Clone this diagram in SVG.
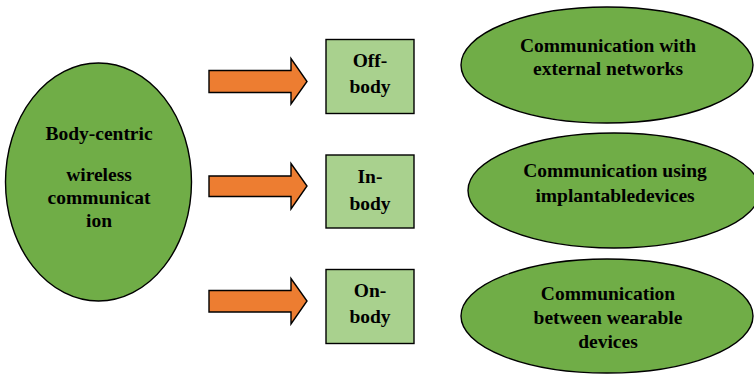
<svg xmlns="http://www.w3.org/2000/svg" width="754" height="375" viewBox="0 0 754 375">
<style>
.ell{fill:#70AD47;stroke:#000;stroke-width:1.4}
.box{fill:#A9D18E;stroke:#000;stroke-width:1.4}
.arr{fill:#ED7D31;stroke:#000;stroke-width:1.4;stroke-linejoin:miter}
text{font-family:"Liberation Serif","Times New Roman",serif;font-weight:bold;font-size:19.5px;fill:#000;text-anchor:middle}
</style>
<rect width="754" height="375" fill="#fff"/>
<g id="connectors">
<polygon class="arr" points="209,70.5 291,70.5 291,58.5 307,81.5 291,104 291,92.5 209,92.5"/>
<polygon class="arr" points="209,176 291,176 291,163.5 307,186 291,209 291,196.5 209,196.5"/>
<polygon class="arr" points="209,290.5 291,290.5 291,278.5 307,301 291,324 291,312 209,312"/>
</g>
<g id="body-centric">
<ellipse class="ell" cx="98.5" cy="182" rx="93" ry="119"/>
<text x="99" y="140">Body-centric</text>
<text x="99" y="180.5">wireless</text>
<text x="99" y="204">communicat</text>
<text x="99" y="227">ion</text>
</g>
<g id="off-body">
<rect class="box" x="326" y="39.5" width="88" height="74"/>
<text x="370" y="66.5">Off-</text>
<text x="370" y="93">body</text>
</g>
<g id="in-body">
<rect class="box" x="326" y="155" width="88" height="73"/>
<text x="370" y="183">In-</text>
<text x="370" y="210">body</text>
</g>
<g id="on-body">
<rect class="box" x="326" y="269.5" width="88" height="74"/>
<text x="370" y="296.5">On-</text>
<text x="370" y="323">body</text>
</g>
<g id="external">
<ellipse class="ell" cx="607" cy="65" rx="146" ry="58"/>
<text x="608" y="51.5">Communication with</text>
<text x="608" y="75">external networks</text>
</g>
<g id="implantable">
<ellipse class="ell" cx="614" cy="190.5" rx="146" ry="57.5"/>
<text x="615" y="176.5">Communication using</text>
<text x="615" y="201.5">implantabledevices</text>
</g>
<g id="wearable">
<ellipse class="ell" cx="607" cy="316" rx="146" ry="57"/>
<text x="608" y="300">Communication</text>
<text x="608" y="323.5">between wearable</text>
<text x="608" y="348">devices</text>
</g>
</svg>
